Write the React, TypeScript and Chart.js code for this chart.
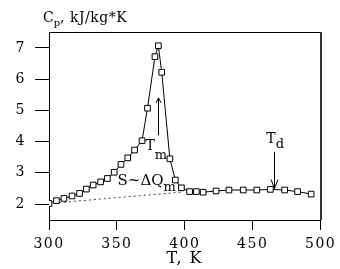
import React, { useEffect, useRef } from 'react';
import { Chart, registerables } from 'chart.js';

Chart.register(...registerables);

// Measured curve: temperature (K) and heat capacity Cp (kJ/kg*K)
const temperatures = [300, 305.5, 311, 317, 322.5, 327.5, 332.5, 338, 343, 348, 353, 358, 363, 368.5, 372.5, 378, 380.5, 383, 389, 393, 397.5, 403.5, 408.5, 413.5, 423, 432.5, 443, 453, 463, 473.5, 483, 493];
const heatCapacity = [2.02, 2.11, 2.18, 2.26, 2.34, 2.48, 2.61, 2.71, 2.82, 3.02, 3.27, 3.48, 3.73, 4.03, 5.07, 6.72, 7.07, 6.22, 3.45, 2.77, 2.52, 2.40, 2.40, 2.38, 2.42, 2.45, 2.45, 2.45, 2.47, 2.45, 2.40, 2.32];

// Dotted baseline under the peak
const baselineT = [300, 397];
const baselineCp = [2.02, 2.38];

const xTicks = [300, 350, 400, 450, 500];
const yTicks = [2, 3, 4, 5, 6, 7];
const xRange = [300, 500];
const yRange = [1.49, 7.51];

const yTitleMain = 'C';
const yTitleSub = 'p';
const yTitleRest = ', kJ/kg*K';
const xTitle = 'T, K';

// Annotations (data coordinates)
const tmLabel = { main: 'T', sub: 'm', t: 371, cp: 3.73 };
const tmArrow = { t: 380, from: 4.2, to: 5.4 };
const sLabel = { main: 'S~ΔQ', sub: 'm', t: 350.5, cp: 2.6 };
const tdLabel = { main: 'T', sub: 'd', t: 460, cp: 3.96 };
const tdArrow = { t: 466, from: 3.67, to: 2.5 };

const FONT = '"DejaVu Serif"';

function drawSubText(ctx: CanvasRenderingContext2D, main: string, sub: string, x: number, yb: number, size: number, subSize: number, subDy: number) {
  ctx.font = `${size}px ${FONT}`;
  ctx.textAlign = 'left';
  ctx.textBaseline = 'alphabetic';
  ctx.fillText(main, x, yb);
  const w = ctx.measureText(main).width;
  ctx.font = `${subSize}px ${FONT}`;
  ctx.fillText(sub, x + w, yb + subDy);
}

function drawArrow(ctx: CanvasRenderingContext2D, x: number, y1: number, y2: number, hw: number, hl: number) {
  const px = Math.round(x) + 0.5;
  ctx.beginPath();
  ctx.moveTo(px, y1);
  ctx.lineTo(px, y2);
  const dir = y2 > y1 ? -1 : 1;
  ctx.moveTo(px - hw, y2 + dir * hl);
  ctx.lineTo(px, y2);
  ctx.lineTo(px + hw, y2 + dir * hl);
  ctx.stroke();
}

const decorPlugin = {
  id: 'decor',
  beforeDraw(chart: any) {
    chart.ctx.letterSpacing = '1.5px';
  },
  afterDraw(chart: any) {
    const { ctx, chartArea, scales } = chart;
    const xs = scales.x;
    const ys = scales.y;
    ctx.save();
    ctx.letterSpacing = '0px';
    ctx.fillStyle = '#000';
    ctx.strokeStyle = '#000';
    ctx.lineWidth = 1;
    // top border
    ctx.beginPath();
    ctx.moveTo(chartArea.left, Math.round(chartArea.top) + 0.5);
    ctx.lineTo(chartArea.right, Math.round(chartArea.top) + 0.5);
    ctx.stroke();
    // right border
    ctx.lineWidth = 2;
    ctx.strokeStyle = '#333';
    ctx.beginPath();
    ctx.moveTo(Math.round(chartArea.right), chartArea.top);
    ctx.lineTo(Math.round(chartArea.right), chartArea.bottom);
    ctx.stroke();

    ctx.lineWidth = 1;
    ctx.strokeStyle = '#000';
    // arrows
    drawArrow(ctx, xs.getPixelForValue(tmArrow.t), ys.getPixelForValue(tmArrow.from), ys.getPixelForValue(tmArrow.to), 2.5, 5);
    drawArrow(ctx, xs.getPixelForValue(tdArrow.t), ys.getPixelForValue(tdArrow.from), ys.getPixelForValue(tdArrow.to), 3.5, 9);

    // labels
    drawSubText(ctx, tmLabel.main, tmLabel.sub, xs.getPixelForValue(tmLabel.t), ys.getPixelForValue(tmLabel.cp), 14, 13, 9);
    drawSubText(ctx, sLabel.main, sLabel.sub, xs.getPixelForValue(sLabel.t), ys.getPixelForValue(sLabel.cp), 15, 13, 6);
    drawSubText(ctx, tdLabel.main, tdLabel.sub, xs.getPixelForValue(tdLabel.t), ys.getPixelForValue(tdLabel.cp), 14, 13, 5);

    // y axis title
    const tx = chartArea.left - 6;
    const ty = chartArea.top - 10;
    ctx.font = `14px ${FONT}`;
    ctx.textBaseline = 'alphabetic';
    ctx.fillText(yTitleMain, tx, ty);
    let w = ctx.measureText(yTitleMain).width;
    ctx.font = `10px ${FONT}`;
    ctx.fillText(yTitleSub, tx + w, ty + 4);
    w += ctx.measureText(yTitleSub).width;
    ctx.font = `14px ${FONT}`;
    ctx.letterSpacing = '0.5px';
    ctx.fillText(yTitleRest, tx + w, ty);
    ctx.restore();
  },
};

export default function App() {
  const ref = useRef<HTMLCanvasElement | null>(null);
  useEffect(() => {
    document.body.style.margin = '0';
    const canvas = ref.current;
    if (!canvas) return;
    const chart = new Chart(canvas, {
      type: 'line',
      data: {
        datasets: [
          {
            data: temperatures.map((t, i) => ({ x: t, y: heatCapacity[i] })),
            borderColor: '#000',
            borderWidth: 1,
            pointStyle: 'rect',
            pointRadius: 4,
            pointBackgroundColor: '#fff',
            pointBorderColor: '#000',
            pointBorderWidth: 1,
            tension: 0,
            order: 1,
          },
          {
            data: baselineT.map((t, i) => ({ x: t, y: baselineCp[i] })),
            borderColor: '#444',
            borderWidth: 1,
            borderDash: [2, 3],
            pointRadius: 0,
            order: 2,
          },
        ],
      },
      options: {
        animation: false,
        responsive: false,
        devicePixelRatio: 1,
        layout: { padding: { top: 32, right: 17, left: 0, bottom: 0 } },
        plugins: { legend: { display: false }, tooltip: { enabled: false } },
        scales: {
          x: {
            type: 'linear',
            min: xRange[0],
            max: xRange[1],
            afterBuildTicks: (s: any) => { s.ticks = xTicks.map((v) => ({ value: v })); },
            afterFit: (s: any) => { s.height = 49; },
            grid: { drawOnChartArea: false, drawTicks: true, tickLength: 10, color: '#000', lineWidth: 1 },
            border: { display: true, color: '#000', width: 1 },
            ticks: { color: '#000', font: { family: 'DejaVu Serif', size: 14 }, padding: 6, maxRotation: 0 },
            title: { display: true, text: xTitle, color: '#000', font: { family: 'DejaVu Serif', size: 16, lineHeight: 1 }, padding: { top: 0, bottom: 2 } },
          },
          y: {
            type: 'linear',
            min: yRange[0],
            max: yRange[1],
            afterBuildTicks: (s: any) => { s.ticks = yTicks.map((v) => ({ value: v })); },
            afterFit: (s: any) => { s.width = 49; },
            grid: { drawOnChartArea: false, drawTicks: true, tickLength: 14, color: '#000', lineWidth: 1 },
            border: { display: true, color: '#000', width: 1 },
            ticks: { color: '#000', font: { family: 'DejaVu Serif', size: 14 }, padding: 9 },
          },
        },
      },
      plugins: [decorPlugin],
    } as any);
    return () => chart.destroy();
  }, []);
  return (
    <div style={{ width: 340, height: 269 }}>
      <canvas ref={ref} width={340} height={269} style={{ display: 'block' }} />
    </div>
  );
}
